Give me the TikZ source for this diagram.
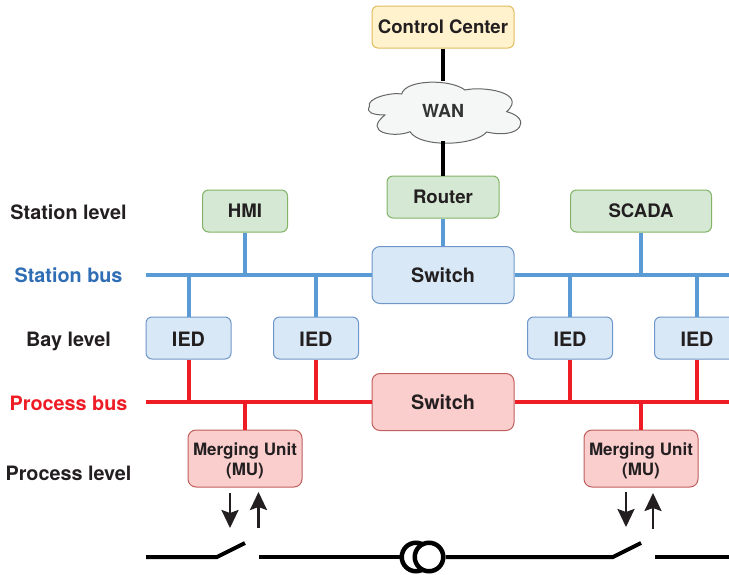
\documentclass[tikz,border=0pt]{standalone}
\usepackage{fontspec}
\setmainfont{TeX Gyre Heros}
\usepackage{xcolor}
\usetikzlibrary{arrows.meta}
\definecolor{fillg}{HTML}{D5E8D4}
\definecolor{drawg}{HTML}{82B366}
\definecolor{fillb}{HTML}{D9E8F6}
\definecolor{drawb}{HTML}{6F96C8}
\definecolor{fillr}{HTML}{FBCECE}
\definecolor{drawr}{HTML}{C05F5C}
\definecolor{filly}{HTML}{FFF2CC}
\definecolor{drawy}{HTML}{E0BC5E}
\definecolor{fillc}{HTML}{F5F7F6}
\definecolor{busb}{HTML}{5B9BD5}
\definecolor{busr}{HTML}{EE1C25}
\definecolor{textb}{HTML}{2F6DB5}
\definecolor{ink}{HTML}{231F20}
\tikzstyle{block} = [rectangle, draw, rounded corners=6pt, line width=1pt, inner sep=0, text=ink, font=\bfseries\fontsize{18.6}{20}\selectfont, align=center]
\tikzstyle{blockg} = [block, fill=fillg, draw=drawg, minimum height=42pt]
\tikzstyle{blocki} = [block, fill=fillb, draw=drawb, minimum width=85pt, minimum height=42pt, text height=16.5pt, font=\bfseries\fontsize{19.8}{22}\selectfont]
\tikzstyle{blocks} = [block, minimum width=142pt, minimum height=57pt, rounded corners=8pt, text height=16pt, font=\bfseries\fontsize{19.8}{22}\selectfont]
\tikzstyle{blockm} = [block, fill=fillr, draw=drawr, minimum width=114pt, minimum height=57pt, rounded corners=8pt, font=\bfseries\fontsize{17}{20}\selectfont]
\tikzstyle{level} = [inner sep=0, text=ink, text height=14pt, text depth=0pt, font=\bfseries\fontsize{19.8}{22}\selectfont]
\tikzstyle{blank} = [inner sep=0,outer sep=0]
\tikzstyle{coil} = [circle, draw=black, fill=white, line width=4.5pt, minimum size=28.5pt, inner sep=0]
\tikzstyle{lineb} = [draw=busb, line width=4pt]
\tikzstyle{liner} = [draw=busr, line width=4pt]
\tikzstyle{linek} = [draw=black, line width=4pt]
\tikzstyle{sense} = [draw=ink, line width=2.5pt, -{Stealth[length=18pt,width=17pt,inset=3pt]}]

\begin{document}
\begin{tikzpicture}[x=1pt, y=1pt, node distance=127pt, auto]
\useasboundingbox (0,0) rectangle (729,-574);

\node [blocks, fill=fillb, draw=drawb] (swstation) at (443,-275) {Switch};
\node [blocks, fill=fillr, draw=drawr, below of=swstation] (swprocess) {Switch};

\node [blocki, left of=swstation, yshift=-63pt] (ied2) {IED};
\node [blocki, left of=ied2, xshift=-0.5pt] (ied1) {IED};
\node [blocki, right of=swstation, yshift=-63pt] (ied3) {IED};
\node [blocki, right of=ied3] (ied4) {IED};

\node [blockg, above of=ied1, xshift=56.5pt, minimum width=85pt] (hmi) {HMI};
\node [blockg, above of=ied3, xshift=71pt, minimum width=141pt] (scada) {SCADA};
\node [blockg, above of=swstation, yshift=-49pt, minimum width=112pt] (router) {Router};

\draw [fill=fillc, draw=black!60, line width=1pt] (369.3,-106.7)
  .. controls (366,-98) and (392,-92) .. (401.7,-94)
  .. controls (405,-79.5) and (450,-78.5) .. (465,-90)
  .. controls (482,-86) and (528,-92) .. (506.7,-111.7)
  .. controls (532,-118) and (522,-140) .. (486.7,-132)
  .. controls (475,-146) and (420,-148) .. (410,-131.7)
  .. controls (395,-138) and (362,-133) .. (385,-115)
  .. controls (372,-115) and (366,-112) .. (369.3,-106.7);
\node [blank, above of=router, yshift=-41pt, minimum width=154pt, minimum height=60pt, text=black!80, font=\bfseries\fontsize{18}{20}\selectfont] (wan) {WAN};
\node [block, fill=filly, draw=drawy, above of=wan, yshift=-43pt, minimum width=142pt, minimum height=42pt] (control) {Control Center};

\node [blockm, below of=hmi, yshift=-120.5pt] (mu1) {\rule{0pt}{16.6pt}Merging Unit\\(MU)};
\node [blockm, below of=scada, yshift=-120.5pt] (mu2) {\rule{0pt}{16.6pt}Merging Unit\\(MU)};

\node [level, left of=ied1, xshift=7pt, yshift=-1pt] (bay) {Bay level};
\node [level, above of=bay] (station) {Station level};
\node [level, above of=bay, yshift=-63pt, text=textb] (stationbus) {Station bus};
\node [level, below of=bay, yshift=63pt, text=busr] (processbus) {Process bus};
\node [level, below of=bay, yshift=-7pt] (process) {Process level};

\node [coil] (t1) at (416,-557) {};
\node [coil, right of=t1, xshift=-114pt] (t2) {};

\coordinate (sleft) at (146,-275);
\coordinate (sright) at (729,-275);
\coordinate (pleft) at (146,-402);
\coordinate (pright) at (729,-402);
\coordinate (j1) at (ied1 |- sleft);
\coordinate (j2) at (ied2 |- sleft);
\coordinate (j3) at (ied3 |- sleft);
\coordinate (j4) at (ied4 |- sleft);
\coordinate (j5) at (hmi |- sleft);
\coordinate (j6) at (scada |- sleft);
\coordinate (k1) at (ied1 |- pleft);
\coordinate (k2) at (ied2 |- pleft);
\coordinate (k3) at (ied3 |- pleft);
\coordinate (k4) at (ied4 |- pleft);
\coordinate (k5) at (mu1 |- pleft);
\coordinate (k6) at (mu2 |- pleft);

\path [linek] (control) -- (wan);
\path [linek] (wan) -- (router);
\path [lineb] (router) -- (swstation);

\path [lineb] (sleft) -- (swstation);
\path [lineb] (swstation) -- (sright);
\path [liner] (pleft) -- (swprocess);
\path [liner] (swprocess) -- (pright);

\path [lineb] (hmi) -- (j5);
\path [lineb] (scada) -- (j6);
\path [lineb] (ied1) -- (j1);
\path [lineb] (ied2) -- (j2);
\path [lineb] (ied3) -- (j3);
\path [lineb] (ied4) -- (j4);
\path [liner] (ied1) -- (k1);
\path [liner] (ied2) -- (k2);
\path [liner] (ied3) -- (k3);
\path [liner] (ied4) -- (k4);
\path [liner] (mu1) -- (k5);
\path [liner] (mu2) -- (k6);

\coordinate (a1) at (230,-493);
\coordinate (a2) at (230,-528);
\coordinate (a3) at (258.5,-528);
\coordinate (a4) at (258.5,-492);
\coordinate (a5) at (626,-492);
\coordinate (a6) at (626,-527);
\coordinate (a7) at (653,-529);
\coordinate (a8) at (653,-493);
\path [sense] (a1) -- (a2);
\path [sense] (a3) -- (a4);
\path [sense] (a5) -- (a6);
\path [sense] (a7) -- (a8);

\coordinate (g0) at (146,-557);
\coordinate (g1) at (217,-557);
\coordinate (g2) at (245,-543);
\coordinate (g3) at (259,-557);
\coordinate (g4) at (613,-557);
\coordinate (g5) at (641,-543);
\coordinate (g6) at (655,-557);
\coordinate (g7) at (729,-557);
\path [linek] (g0) -- (g1) -- (g2);
\path [linek] (g3) -- (t1);
\path [linek] (t2) -- (g4) -- (g5);
\path [linek] (g6) -- (g7);

\end{tikzpicture}
\end{document}
